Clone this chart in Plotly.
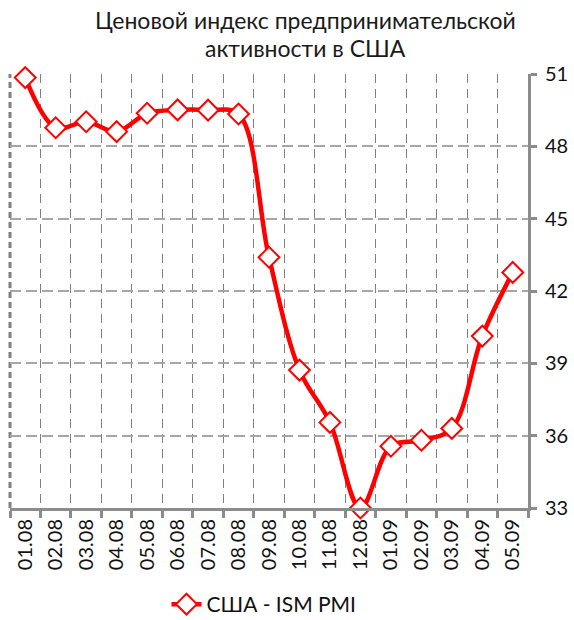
import plotly.graph_objects as go

categories = ["01.08", "02.08", "03.08", "04.08", "05.08", "06.08", "07.08", "08.08",
              "09.08", "10.08", "11.08", "12.08", "01.09", "02.09", "03.09", "04.09", "05.09"]
values = [50.85, 48.77, 49.02, 48.61, 49.37, 49.51, 49.5, 49.34,
          43.4, 38.72, 36.55, 33.0, 35.56, 35.81, 36.3, 40.13, 42.77]
y_ticks = [33, 36, 39, 42, 45, 48, 51]
series_name = "США - ISM PMI"
title_lines = ["Ценовой индекс предпринимательской", "активности в США"]

FONT = "Lato, 'Open Sans', sans-serif"
W, H = 574, 620
L, R, T, B = 10, 46, 74, 112
PLOT_W = W - L - R
PLOT_H = H - T - B

fig = go.Figure()
fig.add_trace(go.Scatter(
    x=categories, y=values, name=series_name,
    mode="lines+markers",
    line=dict(color="#ff0000", width=4.5, shape="spline", smoothing=1.0),
    marker=dict(symbol="diamond", size=16, color="white",
                line=dict(color="#ff0000", width=2)),
    cliponaxis=False,
))

# left border of the plot area (dashed, like the reference)
fig.add_shape(type="line", xref="paper", yref="paper", x0=0, x1=0, y0=0, y1=1,
              line=dict(color="#808080", width=3, dash="6px,4px"), layer="below")

title_x = (305 - L) / PLOT_W
for line_text, cy in zip(title_lines, [20, 48]):
    fig.add_annotation(text=line_text, xref="paper", yref="paper",
                       x=title_x, y=1 + (T - cy) / PLOT_H,
                       xanchor="center", yanchor="middle",
                       showarrow=False, align="center",
                       font=dict(family=FONT, size=23, color="#1a1a1a"))

fig.update_layout(
    width=W, height=H,
    margin=dict(l=L, r=R, t=T, b=B, autoexpand=False),
    paper_bgcolor="white", plot_bgcolor="white",
    font=dict(family=FONT, size=20, color="#111"),
    showlegend=True,
    legend=dict(orientation="h", x=(264 - L) / PLOT_W, xanchor="center",
                y=-(584 - 508) / PLOT_H, yanchor="top",
                font=dict(family=FONT, size=21, color="#111")),
    xaxis=dict(
        type="category", tickson="boundaries",
        showgrid=True, gridcolor="#808080", griddash="9px,6px", gridwidth=1,
        showline=True, linecolor="#8c8c8c", linewidth=3,
        ticks="outside", ticklen=7, tickwidth=2.5, tickcolor="#8c8c8c",
        tickangle=-90, tickfont=dict(size=20, color="#111"),
        range=[-0.5, len(categories) - 0.5], automargin=False,
    ),
    yaxis=dict(
        side="right", range=[33, 51], tickvals=y_ticks,
        showgrid=True, gridcolor="#a6a6a6", griddash="11px,5px", gridwidth=1.5,
        showline=True, linecolor="#8c8c8c", linewidth=3,
        ticks="outside", ticklen=6, tickwidth=2.5, tickcolor="#8c8c8c",
        ticklabelstandoff=4,
        tickfont=dict(size=20, color="#111"), zeroline=False, automargin=False,
    ),
)

fig.write_html("out.html", config={"displayModeBar": False},
               post_script="document.body.style.margin='0';document.body.style.overflow='hidden';")
